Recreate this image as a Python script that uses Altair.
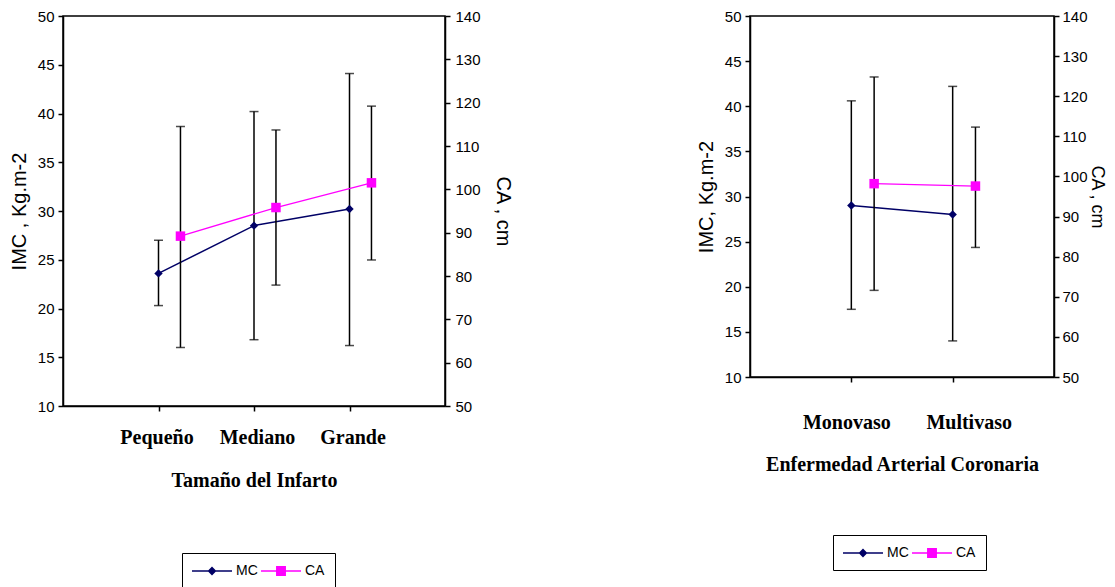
import json
import altair as alt
import pandas as pd

# ---------------- data ----------------
cats1 = ["Pequeño", "Mediano", "Grande"]
mc1_mean = [23.6, 28.5, 30.2]
mc1_lo = [20.3, 16.8, 16.2]
mc1_hi = [27.0, 40.2, 44.1]
ca1_mean = [89.2, 95.8, 101.5]
ca1_lo = [63.5, 77.9, 83.7]
ca1_hi = [114.5, 113.7, 119.2]

cats2 = ["Monovaso", "Multivaso"]
mc2_mean = [29.0, 28.0]
mc2_lo = [17.5, 14.0]
mc2_hi = [40.6, 42.2]
ca2_mean = [98.2, 97.6]
ca2_lo = [71.6, 82.3]
ca2_hi = [124.8, 112.3]

series = ["MC", "CA"]
imc_ticks = [10, 15, 20, 25, 30, 35, 40, 45, 50]
ca_ticks = [50, 60, 70, 80, 90, 100, 110, 120, 130, 140]

NAVY = "#000066"
MAGENTA = "#FF00FF"
SANS = "'Liberation Sans', Arial, sans-serif"
SERIF = "'Liberation Serif', 'Times New Roman', serif"

# legend symbols: line + marker as one filled path (unit = 8 px, centre at 8 px)
PATH_MC = "M-1,-0.09H4V0.09H-1Z M1.5,-0.55L2.05,0L1.5,0.55L0.95,0Z"
PATH_CA = "M-1,-0.09H4V0.09H-1Z M0.88,-0.62H2.12V0.62H0.88Z"


def panel(cats, mc_mean, mc_lo, mc_hi, ca_mean, ca_lo, ca_hi,
          width, height, ca_shift, label_pad, title_pad, lab_off_first,
          lab_off_rest, xtitle, imc_title, ca_title, leg_x, leg_y,
          ca_lab_pad, ca_title_pad, ca_title_size):
    n = len(cats)
    pos = [i + 1 for i in range(n)]
    df_mc = pd.DataFrame({"pos": pos, "cat": cats, "mean": mc_mean,
                          "lo": mc_lo, "hi": mc_hi, "serie": "MC"})
    df_ca = pd.DataFrame({"pos": [p + ca_shift for p in pos], "cat": cats,
                          "mean": ca_mean, "lo": ca_lo, "hi": ca_hi,
                          "serie": "CA"})

    label_expr = json.dumps(cats) + "[round(datum.value) - 1]"
    x_enc = alt.X(
        "pos:Q",
        scale=alt.Scale(domain=[0, n + 1], nice=False, zero=False),
        axis=alt.Axis(values=pos, labelExpr=label_expr, title=xtitle,
                      grid=False, tickSize=5, labelPadding=label_pad,
                      labelOffset={"condition": {"test": "datum.value == 1",
                                                 "value": lab_off_first},
                                   "value": lab_off_rest},
                      labelFont=SERIF, labelFontWeight="bold",
                      labelFontSize=20, titleFont=SERIF,
                      titleFontWeight="bold", titleFontSize=20,
                      titlePadding=title_pad, labelAngle=0),
    )

    imc_scale = alt.Scale(domain=[10, 50], nice=False, zero=False)
    imc_axis = alt.Axis(values=imc_ticks, title=imc_title, orient="left",
                        grid=False, tickSize=5, labelPadding=4,
                        titlePadding=8, titleFont=SANS, titleFontSize=20)
    ca_scale = alt.Scale(domain=[50, 140], nice=False, zero=False)
    ca_axis = alt.Axis(values=ca_ticks, title=ca_title, orient="right",
                       grid=False, tickSize=5, labelPadding=ca_lab_pad,
                       titlePadding=ca_title_pad, titleFont=SANS,
                       titleFontSize=ca_title_size)

    def y(field, sc, ax):
        return alt.Y(field + ":Q", scale=sc, axis=ax)

    legend = alt.Legend(
        title=None, orient="none", legendX=leg_x, legendY=leg_y,
        direction="horizontal", strokeColor="black", padding=10,
        symbolSize=256, symbolOffset=0, labelOffset=28,
        labelFont=SANS, labelFontSize=14, labelColor="black",
        columnPadding=3, symbolStrokeWidth=0,
    )

    def group(df, sc, ax, color, shape, size, lw):
        base = alt.Chart(df)
        rule = base.mark_rule(color="black", strokeWidth=1.5).encode(
            x=x_enc, y=y("lo", sc, ax), y2="hi:Q")
        cap_lo = base.mark_tick(color="black", thickness=1.5, size=9,
                                orient="horizontal").encode(
            x=x_enc, y=y("lo", sc, ax))
        cap_hi = base.mark_tick(color="black", thickness=1.5, size=9,
                                orient="horizontal").encode(
            x=x_enc, y=y("hi", sc, ax))
        line = base.mark_line(color=color, strokeWidth=lw).encode(
            x=x_enc, y=y("mean", sc, ax))
        pts = base.mark_point(shape=shape, filled=True, size=size,
                              color=color, opacity=1).encode(
            x=x_enc, y=y("mean", sc, ax))
        return [rule, cap_lo, cap_hi, line, pts]

    mc_layers = group(df_mc, imc_scale, imc_axis, NAVY, "diamond", 70, 1.5)
    ca_layers = group(df_ca, ca_scale, ca_axis, MAGENTA, "square", 90, 1.3)

    leg_layer = alt.Chart(df_mc).mark_point(filled=True, opacity=1).encode(
        x=x_enc,
        y=y("mean", imc_scale, imc_axis),
        color=alt.Color("serie:N",
                        scale=alt.Scale(domain=series, range=[NAVY, MAGENTA]),
                        legend=legend),
        shape=alt.Shape("serie:N",
                        scale=alt.Scale(domain=series,
                                        range=[PATH_MC, PATH_CA]),
                        legend=legend),
    ).transform_filter("false")

    mc_group = alt.layer(*mc_layers, leg_layer)
    ca_group = alt.layer(*ca_layers)
    return alt.layer(mc_group, ca_group).resolve_scale(
        y="independent").properties(width=width, height=height)


p1 = panel(cats1, mc1_mean, mc1_lo, mc1_hi, ca1_mean, ca1_lo, ca1_hi,
           382, 390, 0.23, 16, 23, -2, 3, "Tamaño del Infarto",
           "IMC , Kg.m-2", "CA , cm", 119, 537, 5, 12, 20)
p2 = panel(cats2, mc2_mean, mc2_lo, mc2_hi, ca2_mean, ca2_lo, ca2_hi,
           304, 361, 0.225, 30, 22, -5, 16, "Enfermedad Arterial Coronaria",
           "IMC, Kg.m-2", "CA , cm", 83, 519, 3, 0, 18)

chart = alt.hconcat(p1, p2, spacing=182).resolve_scale(
    color="independent", shape="independent"
).resolve_legend(
    color="independent", shape="independent"
).properties(
    padding={"left": 0, "top": 0, "right": 0, "bottom": 0},
    background="white",
).configure_view(
    stroke="black", strokeWidth=1.5, fill="white"
).configure_axis(
    domainColor="black", domainWidth=1.5, tickColor="black", tickWidth=1.5,
    labelColor="black", titleColor="black", labelFont=SANS,
    labelFontSize=15, titleFontWeight="normal",
)

chart.save("out.html", embed_options={"renderer": "svg", "actions": False})
